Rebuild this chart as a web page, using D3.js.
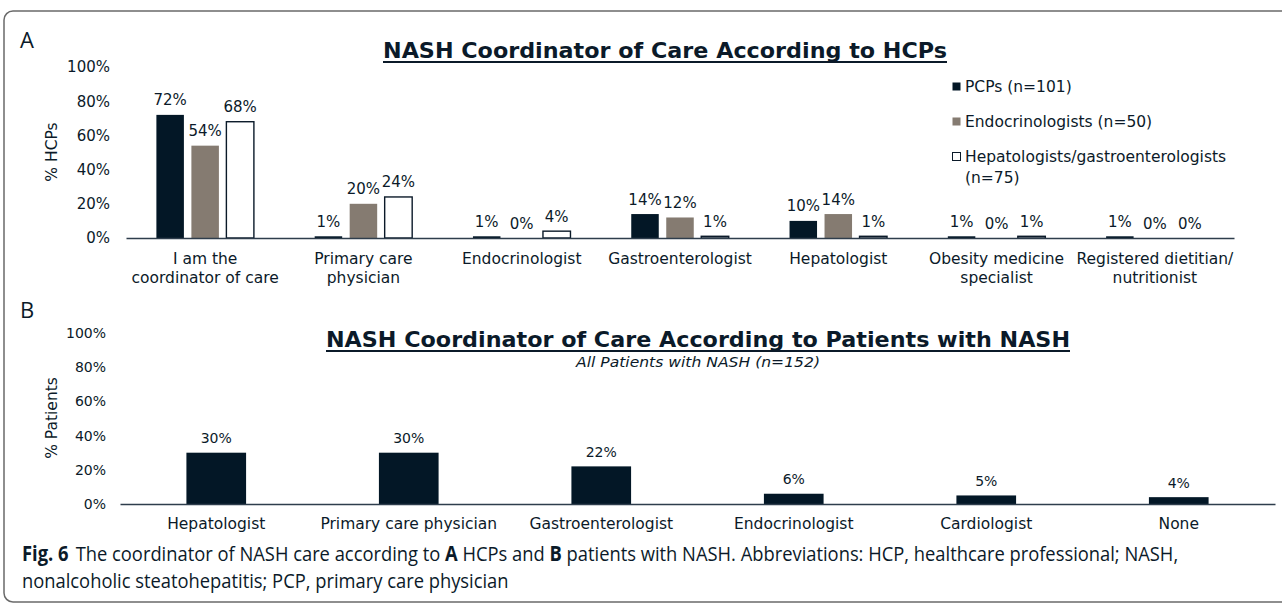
<!DOCTYPE html>
<html>
<head>
<meta charset="utf-8">
<script src="https://cdn.jsdelivr.net/npm/d3@7"></script>
<style>
  body { margin: 0; background: #fff; }
  svg { display: block; }
  text { fill: #0b1a29; }
</style>
</head>
<body>
<div id="chart"></div>
<script>
// ---- data ----
const categoriesA = [
  "I am the\ncoordinator of care",
  "Primary care\nphysician",
  "Endocrinologist",
  "Gastroenterologist",
  "Hepatologist",
  "Obesity medicine\nspecialist",
  "Registered dietitian/\nnutritionist"
];
const seriesA = ["PCPs (n=101)", "Endocrinologists (n=50)", "Hepatologists/gastroenterologists\n(n=75)"];
const pcpValues = [72, 1, 1, 14, 10, 1, 1];
const endoValues = [54, 20, 0, 12, 14, 0, 0];
const hepValues = [68, 24, 4, 1, 1, 1, 0];

const categoriesB = ["Hepatologist", "Primary care physician", "Gastroenterologist", "Endocrinologist", "Cardiologist", "None"];
const patientValues = [30, 30, 22, 6, 5, 4];

const yTicks = [0, 20, 40, 60, 80, 100];

const width = 1282, height = 603;
const ink = "#0b1a29";
const colors = ["#031726", "#857b71", "#ffffff"];

const svg = d3.select("#chart").append("svg")
  .attr("width", width)
  .attr("height", height);

// outer rounded frame
svg.append("rect")
  .attr("x", 4).attr("y", 11)
  .attr("width", 1320).attr("height", 591)
  .attr("rx", 9)
  .attr("fill", "none")
  .attr("stroke", "#6a6a6a")
  .attr("stroke-width", 1.5);

const font = "'DejaVu Sans', Verdana, sans-serif";

// squeeze a single text to a target width (original face is narrower than DejaVu)
function squeezeTo(sel, w) {
  sel.attr("textLength", w).attr("lengthAdjust", "spacingAndGlyphs");
}

function underlinedTitle(txt, cx, y, w) {
  const t = svg.append("text")
    .attr("x", cx).attr("y", y)
    .attr("text-anchor", "middle")
    .style("font-family", font)
    .style("font-weight", "bold")
    .style("font-size", "21px")
    .text(txt);
  squeezeTo(t, w);
  svg.append("line")
    .attr("x1", cx - w / 2).attr("x2", cx + w / 2)
    .attr("y1", y + 4).attr("y2", y + 4)
    .attr("stroke", ink).attr("stroke-width", 2);
}

function multiline(sel, lh) {
  sel.each(function() {
    const t = d3.select(this);
    const lines = t.text().split("\n");
    t.text(null);
    lines.forEach((l, i) => {
      t.append("tspan").attr("x", 0).attr("dy", i === 0 ? 0 : lh).text(l);
    });
  });
}

// ================= Panel A =================
svg.append("text").attr("x", 20).attr("y", 48)
  .style("font-family", "'Open Sans', sans-serif").style("font-size", "22px").text("A");

underlinedTitle("NASH Coordinator of Care According to HCPs", 665, 58, 564);

const x0A = d3.scaleBand().domain(categoriesA).range([126, 1234])
  .paddingInner(0.384).paddingOuter(0.192);
const x1A = d3.scaleBand().domain(d3.range(3)).range([0, x0A.bandwidth()])
  .paddingInner(0.214).paddingOuter(0);
const yA = d3.scaleLinear().domain([0, 100]).range([238, 67]);

const yAxisA = svg.append("g")
  .attr("transform", "translate(110,0)")
  .call(d3.axisLeft(yA).tickValues(yTicks).tickSize(0).tickPadding(0).tickFormat(d => d + "%"));
yAxisA.select(".domain").remove();
yAxisA.selectAll("text").style("font-family", font).style("font-size", "15px").attr("fill", ink);

svg.append("text")
  .attr("transform", "translate(57,152) rotate(-90)")
  .attr("text-anchor", "middle")
  .style("font-family", font).style("font-size", "15.5px")
  .text("% HCPs");

const seriesValsA = [pcpValues, endoValues, hepValues];
const rowsA = categoriesA.map((c, i) => ({ cat: c, vals: seriesValsA.map(s => s[i]) }));

const groupsA = svg.append("g").selectAll("g")
  .data(rowsA).join("g")
  .attr("transform", d => `translate(${x0A(d.cat)},0)`);

groupsA.selectAll("rect")
  .data(d => d.vals.map((v, k) => ({ v, k })))
  .join("rect")
  .attr("x", d => x1A(d.k))
  .attr("y", d => yA(d.v))
  .attr("width", x1A.bandwidth())
  .attr("height", d => yA(0) - yA(d.v))
  .attr("fill", d => colors[d.k])
  .attr("stroke", d => d.k === 2 && d.v > 0 ? ink : "none")
  .attr("stroke-width", 1.4);

groupsA.selectAll("text")
  .data(d => d.vals.map((v, k) => ({ v, k })))
  .join("text")
  .attr("x", d => x1A(d.k) + x1A.bandwidth() / 2)
  .attr("y", d => yA(d.v) - 9.5)
  .attr("text-anchor", "middle")
  .style("font-family", font).style("font-size", "15px")
  .text(d => d.v + "%");

const xAxisA = svg.append("g")
  .attr("transform", "translate(0,238)")
  .call(d3.axisBottom(x0A).tickSize(0).tickPadding(0).tickSizeOuter(0));
xAxisA.select(".domain").attr("stroke", "#2e3d4c").attr("stroke-width", 1.5);
xAxisA.selectAll("text")
  .attr("y", 26).attr("dy", null)
  .attr("fill", ink)
  .style("font-family", font).style("font-size", "15.5px")
  .call(multiline, 19);

// legend
const legA = svg.append("g").attr("transform", "translate(952,0)");
seriesA.forEach((s, k) => {
  const yy = 92 + k * 35;
  legA.append("rect")
    .attr("x", 0.5).attr("y", yy - 9.5)
    .attr("width", 8).attr("height", 8)
    .attr("fill", colors[k])
    .attr("stroke", k === 2 ? ink : "none")
    .attr("stroke-width", 1);
  const t = legA.append("text")
    .attr("x", 13).attr("y", yy)
    .style("font-family", font).style("font-size", "15.5px");
  s.split("\n").forEach((l, i) => {
    t.append("tspan").attr("x", 13).attr("dy", i === 0 ? 0 : 21).text(l);
  });
});

// ================= Panel B =================
svg.append("text").attr("x", 20).attr("y", 318)
  .style("font-family", "'Open Sans', sans-serif").style("font-size", "22px").text("B");

underlinedTitle("NASH Coordinator of Care According to Patients with NASH", 698, 347, 744);

const sub = svg.append("text")
  .attr("x", 698).attr("y", 367)
  .attr("text-anchor", "middle")
  .style("font-family", font).style("font-style", "italic").style("font-size", "14.5px")
  .text("All Patients with NASH (n=152)");
squeezeTo(sub, 244);

const xB = d3.scaleBand().domain(categoriesB).range([120, 1275])
  .paddingInner(0.69).paddingOuter(0.345);
const yB = d3.scaleLinear().domain([0, 100]).range([504, 333]);

const yAxisB = svg.append("g")
  .attr("transform", "translate(106,0)")
  .call(d3.axisLeft(yB).tickValues(yTicks).tickSize(0).tickPadding(0).tickFormat(d => d + "%"));
yAxisB.select(".domain").remove();
yAxisB.selectAll("text").style("font-family", font).style("font-size", "14px").attr("fill", ink);

svg.append("text")
  .attr("transform", "translate(57,418) rotate(-90)")
  .attr("text-anchor", "middle")
  .style("font-family", font).style("font-size", "15.5px")
  .text("% Patients");

const rowsB = categoriesB.map((c, i) => ({ cat: c, v: patientValues[i] }));

svg.append("g").selectAll("rect")
  .data(rowsB).join("rect")
  .attr("x", d => xB(d.cat))
  .attr("y", d => yB(d.v))
  .attr("width", xB.bandwidth())
  .attr("height", d => yB(0) - yB(d.v))
  .attr("fill", colors[0]);

svg.append("g").selectAll("text")
  .data(rowsB).join("text")
  .attr("x", d => xB(d.cat) + xB.bandwidth() / 2)
  .attr("y", d => yB(d.v) - 9.5)
  .attr("text-anchor", "middle")
  .style("font-family", font).style("font-size", "14px")
  .text(d => d.v + "%");

const xAxisB = svg.append("g")
  .attr("transform", "translate(0,504)")
  .call(d3.axisBottom(xB).tickSize(0).tickPadding(0).tickSizeOuter(0));
xAxisB.select(".domain").attr("stroke", "#2e3d4c").attr("stroke-width", 1.5);
xAxisB.selectAll("text")
  .attr("y", 25).attr("dy", null)
  .attr("fill", ink)
  .style("font-family", font).style("font-size", "15.5px");

// ================= caption =================
// the caption face is condensed: draw at full height, then squeeze the group horizontally
const capFont = "'Open Sans', 'Noto Sans', sans-serif";
const capG = svg.append("g").attr("transform", "translate(22,0)");
const cap1 = capG.append("text")
  .attr("x", 0).attr("y", 561)
  .style("font-family", capFont).style("font-size", "20.5px").attr("fill", "#222");
cap1.append("tspan").style("font-weight", "bold").text("Fig. 6");
cap1.append("tspan").attr("dx", 8).text("The coordinator of NASH care according to ");
cap1.append("tspan").style("font-weight", "bold").text("A");
cap1.append("tspan").text(" HCPs and ");
cap1.append("tspan").style("font-weight", "bold").text("B");
cap1.append("tspan").text(" patients with NASH. Abbreviations: HCP, healthcare professional; NASH,");
capG.append("text")
  .attr("x", 0).attr("y", 588)
  .style("font-family", capFont).style("font-size", "20.5px").attr("fill", "#222")
  .text("nonalcoholic steatohepatitis; PCP, primary care physician");
const sx = 1150 / cap1.node().getComputedTextLength();
capG.attr("transform", `translate(22,0) scale(${sx},1)`);
</script>
</body>
</html>
